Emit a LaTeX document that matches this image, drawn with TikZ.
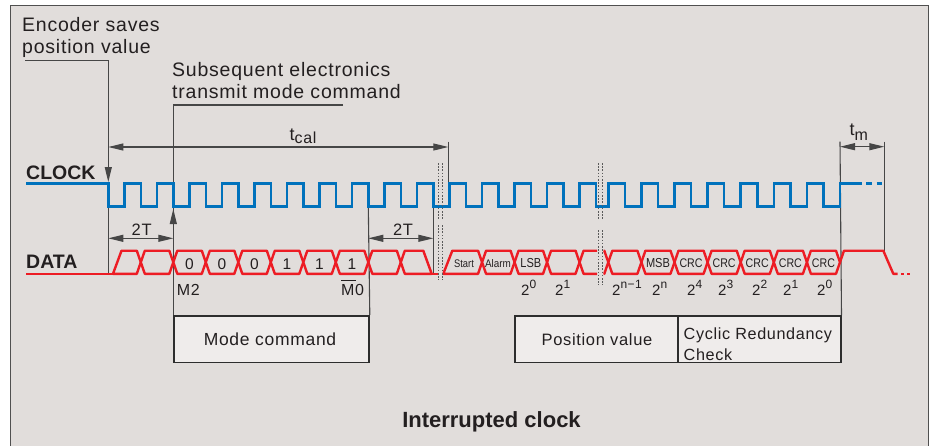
\documentclass[tikz,border=0pt]{standalone}
\usepackage{fontspec}
\usepackage{graphicx}
\setmainfont{Liberation Sans}[LetterSpace=4]
\newfontfamily\tightfont{Liberation Sans}
\usetikzlibrary{arrows.meta}
\newcommand\setfs[1]{\fontsize{#1}{#1}\selectfont}
\definecolor{bgc}{RGB}{225,221,219}
\definecolor{boxc}{RGB}{239,236,235}
\definecolor{boxl}{RGB}{45,45,45}
\definecolor{framec}{RGB}{80,80,80}
\definecolor{clkc}{RGB}{0,114,188}
\definecolor{datc}{RGB}{237,28,36}
\definecolor{linc}{RGB}{70,70,70}
\definecolor{brkc}{RGB}{90,90,90}
\definecolor{txtc}{RGB}{35,31,32}
\begin{document}
\begin{tikzpicture}[x=1pt,y=-1pt,
  gl/.style={draw=linc,line width=1.1pt},
  tip/.style={-{Triangle[length=15pt,width=7pt]}},
  dimarrow/.style={draw=linc,line width=1.1pt,{Triangle[length=15pt,width=7pt]}-{Triangle[length=15pt,width=7pt]}},
  clk/.style={draw=clkc,line width=2.6pt},
  dat/.style={draw=datc,line width=2.4pt,line join=round},
  brk/.style={draw=brkc,line width=1pt,dash pattern=on 1.6pt off 1.6pt},
  txt/.style={inner sep=0pt,text=txtc,font=\setfs{19.5}},
  lbl/.style={txt,anchor=base west},
  cen/.style={txt,anchor=base},
  bit/.style={cen,font=\setfs{15.5}},
  small/.style={cen,font=\tightfont\setfs{11}},
  mid/.style={cen,font=\tightfont\setfs{13}},
  pw/.style={lbl,font=\setfs{15}},
  box/.style={draw=boxl,fill=boxc,line width=1.5pt,inner sep=0pt,anchor=north west},
  head/.style={lbl,font=\tightfont\bfseries\setfs{19.5}},
]
\useasboundingbox (0,0) rectangle (935,445);
\fill[white] (0,0) rectangle (935,445);
\draw[fill=bgc,draw=framec,line width=1pt] (10,5) rectangle (928,470);

% texts
\node[lbl] (enc1) at (22,31.7) {Encoder saves};
\node[lbl] (enc2) at (22,53.3) {position value};
\node[lbl] (sub1) at (172,76) {Subsequent electronics};
\node[lbl] (sub2) at (172,98.3) {transmit mode command};
\node[lbl,font=\setfs{18}] (tcal) at (289.5,140) {t\raisebox{-3pt}{\setfs{16}cal}};
\node[lbl,font=\setfs{18}] (tm) at (849.5,135) {t\raisebox{-5pt}{\setfs{16}m}};
\node[head] (clock) at (26,179) {CLOCK};
\node[head] (data) at (26,268.3) {DATA};
\node[cen,font=\setfs{16.5}] (tt1) at (141.7,235) {2T};
\node[cen,font=\setfs{16.5}] (tt2) at (403,235) {2T};
\node[lbl,font=\setfs{16}] (m2) at (176.7,295.7) {M2};
\node[lbl,font=\setfs{16}] (m0) at (341,295.7) {\rlap{\rule[14.5pt]{15pt}{1pt}}M0};

% boxes
\node[box,minimum width=195pt,minimum height=46.7pt] (modebox) at (173.3,315) {};
\node[box,minimum width=163pt,minimum height=46.7pt] (posbox) at (514,315) {};
\node[box,minimum width=163pt,minimum height=46.7pt] (crcbox) at (677,315) {};
\node[cen,font=\setfs{17.5}] (modet) at (270,345) {Mode command};
\node[cen,font=\setfs{16.5}] (post) at (597,345) {Position value};
\node[lbl,font=\setfs{16.2}] (crc1) at (683.5,339) {Cyclic Redundancy};
\node[lbl,font=\setfs{16.2}] (crc2) at (683.5,360) {Check};
\node[cen,font=\tightfont\bfseries\setfs{22}] (title) at (491.5,427) {Interrupted clock};

% leaders and dimension lines
\draw[gl,tip] (25,60.3) -- (108.3,60.3) -- (108.3,182);
\draw[gl] (108.3,182) -- (108.3,273.8);
\draw[gl] (343,105) -- (173.3,105) -- (modebox.north west);
\draw[gl,tip] (173.3,245) -- (173.3,209);
\draw[gl] (368.3,206.7) -- (modebox.north east);
\draw[gl] (433.3,206.7) -- (433.3,273.8);
\draw[gl] (448.3,141.7) -- (448.3,183.3);
\draw[gl] (840,141.7) -- (crcbox.north east);
\draw[gl] (884.3,141.7) -- (884.3,250.7);
\draw[dimarrow] (108.3,147) -- (448.3,147);
\draw[dimarrow] (840,146.7) -- (884.3,146.7);
\draw[dimarrow] (108.3,238.3) -- (173.3,238.3);
\draw[dimarrow] (368.3,238.3) -- (433.3,238.3);

% clock
\draw[clk] (26,183.3) -- (108.3,183.3)
  \foreach \i in {1,...,15}{ -- ++(0,23.4) -- ++(16.25,0) -- ++(0,-23.4) -- ++(16.25,0) }
  -- ++(0,23.4) -- (608.3,206.7)
  \foreach \i in {1,...,7}{ -- ++(0,-23.4) -- ++(16.55,0) -- ++(0,23.4) -- ++(16.55,0) }
  -- ++(0,-23.4) -- (861.7,183.3);
\draw[clk] (866,183.3) -- (871.7,183.3) (876.7,183.3) -- (881.7,183.3);

% data
\draw[dat] (26,273.8) -- (113,273.8);
\draw[dat] (113,273.8) -- (121.5,250.7) -- (136.8,250.7) -- (140.8,262.25) -- (136.8,273.8) -- cycle;
\foreach \a/\b in {140.8/173.3,173.3/205.8,205.8/238.3,238.3/270.8,270.8/303.3,303.3/335.8,335.8/368.3,368.3/400.8,
  482.05/514.55,514.55/547.05,547.05/579.55,
  608.3/641.4,641.4/674.5,674.5/707.6,707.6/740.7,740.7/773.8,773.8/806.9,806.9/840}
  \draw[dat] (\a,262.25) -- (\a+4,250.7) -- (\b-4,250.7) -- (\b,262.25) -- (\b-4,273.8) -- (\a+4,273.8) -- cycle;
\draw[dat] (400.8,262.25) -- (404.8,250.7) -- (423.3,250.7) -- (431.7,273.8) -- (404.8,273.8) -- cycle;
\draw[dat] (431.7,273.8) -- (437.5,273.8);
\draw[dat] (443.3,273.8) -- (452.3,250.7) -- (478.05,250.7) -- (482.05,262.25) -- (478.05,273.8) -- cycle;
\draw[dat] (597,250.7) -- (583.55,250.7) -- (579.55,262.25) -- (583.55,273.8) -- (597,273.8);
\draw[dat] (603.5,250.7) -- (604.3,250.7) -- (608.3,262.25) -- (604.3,273.8) -- (603.5,273.8);
\draw[dat] (840,262.25) -- (844,250.7) -- (883.3,250.7) -- (893.3,273.8) -- (897.5,273.8);
\draw[dat] (901,273.8) -- (903.5,273.8) (907,273.8) -- (909.5,273.8);

% breaks
\draw[brk] (438.3,163) -- (438.3,219) (442.3,163) -- (442.3,219) (438.3,225) -- (438.3,280) (442.3,225) -- (442.3,280);
\draw[brk] (598.3,163) -- (598.3,220) (602.7,163) -- (602.7,220) (598.3,230) -- (598.3,285) (602.7,230) -- (602.7,285);

% cell labels
\foreach \x/\t [count=\i] in {189.55/0,222.05/0,254.55/0,287.05/1,319.55/1,352.05/1}
  \node[bit] (bit\i) at (\x,269.3) {\t};
\node[small] (start) at (464,267.3) {\scalebox{0.85}[1]{Start}};
\node[small] (alarm) at (498,267.3) {\scalebox{0.9}[1]{Alarm}};
\node[mid] (lsb) at (530.8,267.7) {\scalebox{0.85}[1]{LSB}};
\node[mid] (msb) at (658,267.7) {\scalebox{0.85}[1]{MSB}};
\foreach \x [count=\i] in {691.05,724.15,757.25,790.35,823.45}
  \node[mid,font=\tightfont\setfs{12.5}] (crc\i) at (\x,267.5) {\scalebox{0.85}[1]{CRC}};

% weights
\foreach \x/\e [count=\i] in {521/0,555/1,612/n−1,652/n,687/4,718/3,752/2,783/1,817/0}
  \node[pw] (pw\i) at (\x,295) {2\raisebox{7pt}{\setfs{12}\e}};
\end{tikzpicture}
\end{document}
